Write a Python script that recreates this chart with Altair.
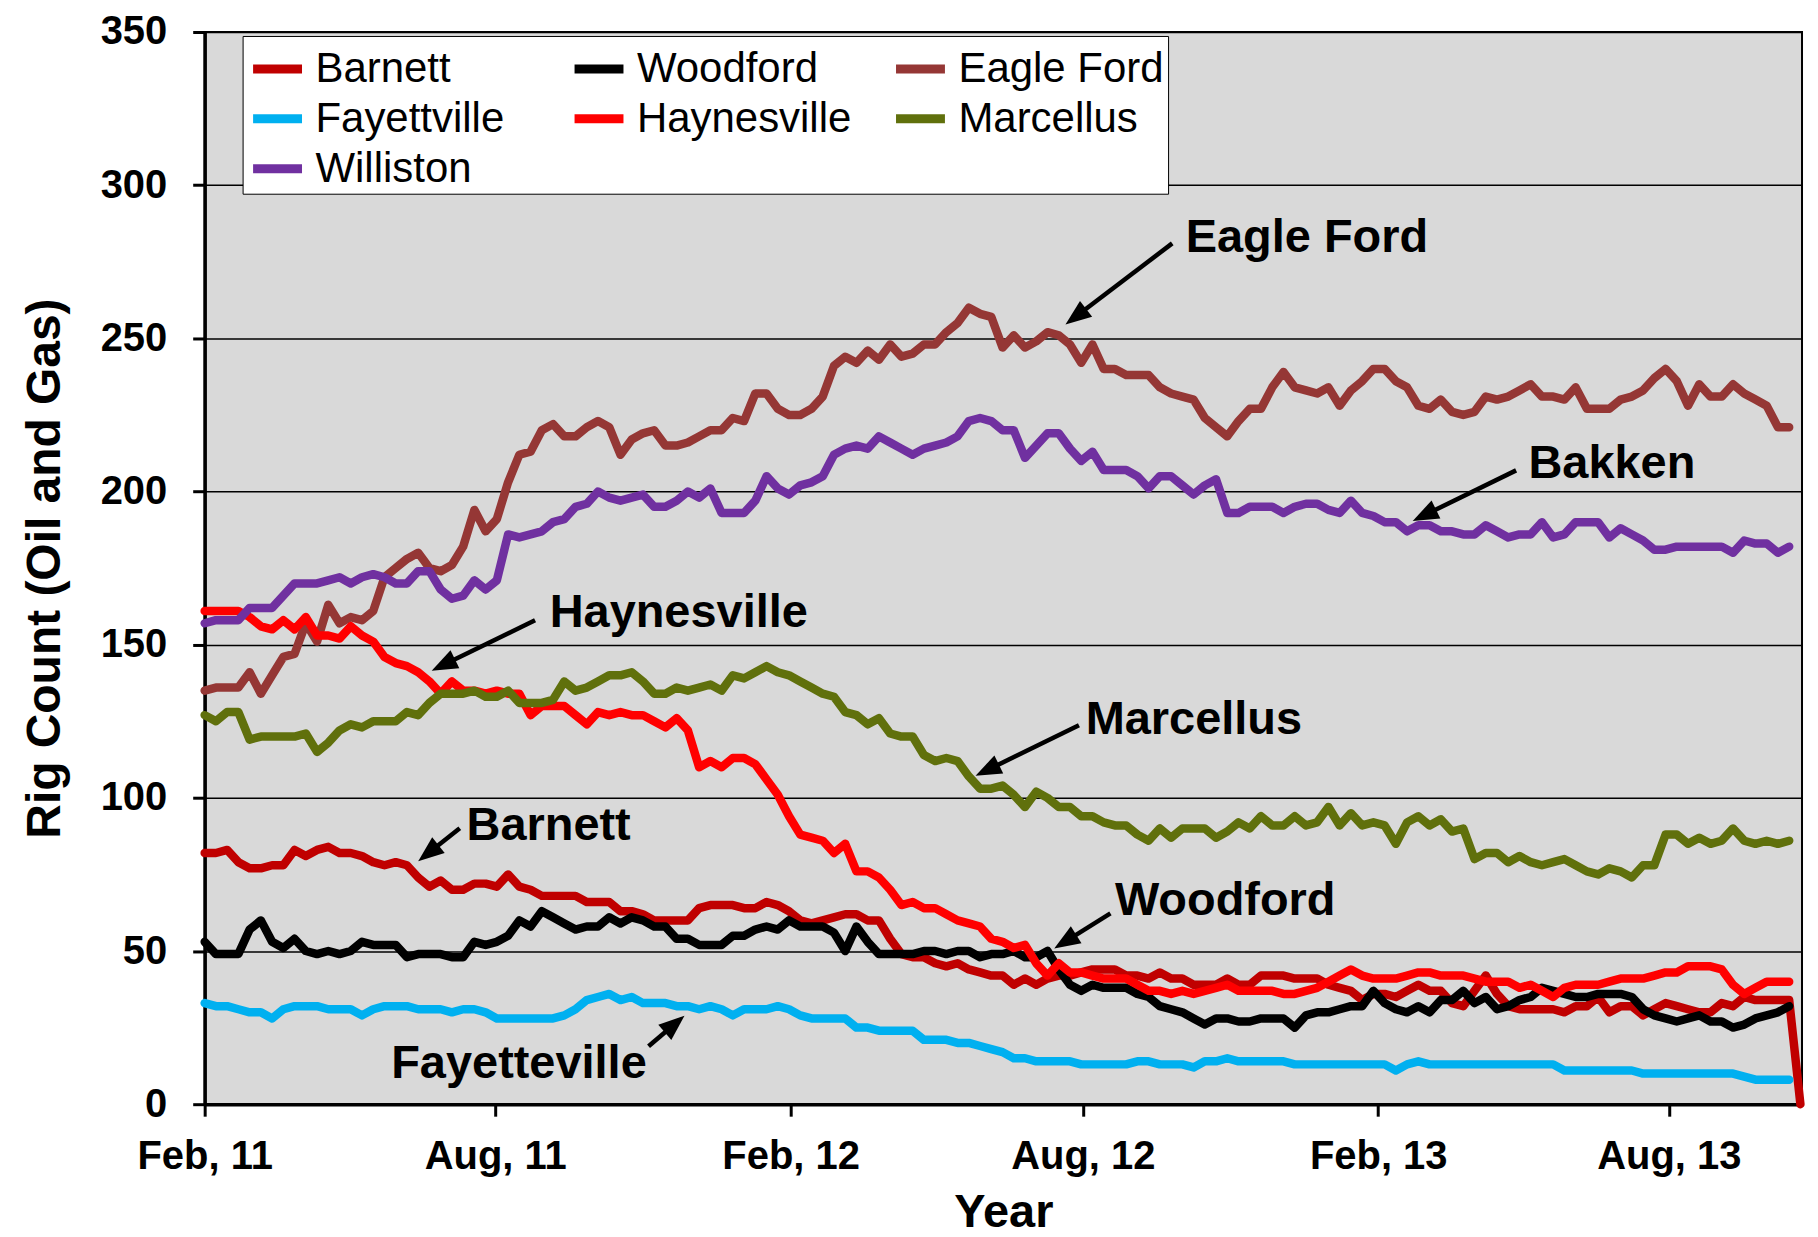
import math
import altair as alt
import pandas as pd

# ---------------- data (weekly rig counts) ----------------
SERIES = ["Barnett", "Woodford", "Eagle Ford", "Fayettville", "Haynesville", "Marcellus", "Williston"]
COLORS = ["#C00000", "#000000", "#953735", "#00B0F0", "#FF0000", "#60700C", "#7030A0"]

BARNETT = [
    82, 82, 83, 79, 77, 77, 78, 78, 83, 81,
    83, 84, 82, 82, 81, 79, 78, 79, 78, 74,
    71, 73, 70, 70, 72, 72, 71, 75, 71, 70,
    68, 68, 68, 68, 66, 66, 66, 63, 63, 62,
    60, 60, 60, 60, 64, 65, 65, 65, 64, 64,
    66, 65, 63, 60, 59, 60, 61, 62, 62, 60,
    60, 54, 49, 48, 48, 46, 45, 46, 44, 43,
    42, 42, 39, 41, 39, 41, 42, 42, 43, 44,
    44, 44, 42, 42, 41, 43, 41, 41, 39, 39,
    39, 41, 39, 39, 42, 42, 42, 41, 41, 41,
    39, 38, 37, 34, 36, 36, 35, 37, 39, 37,
    37, 33, 32, 37, 42, 36, 32, 31, 31, 31,
    31, 30, 32, 32, 35, 30, 32, 32, 29, 31,
    33, 32, 31, 30, 30, 33, 32, 35, 34, 34,
    34, 34, 0,
]
WOODFORD = [
    53, 49, 49, 49, 57, 60, 53, 51, 54, 50,
    49, 50, 49, 50, 53, 52, 52, 52, 48, 49,
    49, 49, 48, 48, 53, 52, 53, 55, 60, 58,
    63, 61, 59, 57, 58, 58, 61, 59, 61, 60,
    58, 58, 54, 54, 52, 52, 52, 55, 55, 57,
    58, 57, 60, 58, 58, 58, 56, 50, 58, 53,
    49, 49, 49, 49, 50, 50, 49, 50, 50, 48,
    49, 49, 50, 48, 48, 50, 44, 39, 37, 39,
    38, 38, 38, 36, 35, 32, 31, 30, 28, 26,
    28, 28, 27, 27, 28, 28, 28, 25, 29, 30,
    30, 31, 32, 32, 37, 33, 31, 30, 32, 30,
    34, 34, 37, 33, 35, 31, 32, 34, 35, 38,
    37, 36, 35, 35, 36, 36, 36, 35, 31, 29,
    28, 27, 28, 29, 27, 27, 25, 26, 28, 29,
    30, 32,
]
EAGLE_FORD = [
    135, 136, 136, 136, 141, 134, 140, 146, 147, 157,
    151, 163, 157, 159, 158, 161, 172, 175, 178, 180,
    175, 174, 176, 182, 194, 187, 191, 203, 212, 213,
    220, 222, 218, 218, 221, 223, 221, 212, 217, 219,
    220, 215, 215, 216, 218, 220, 220, 224, 223, 232,
    232, 227, 225, 225, 227, 231, 241, 244, 242, 246,
    243, 248, 244, 245, 248, 248, 252, 255, 260, 258,
    257, 247, 251, 247, 249, 252, 251, 248, 242, 248,
    240, 240, 238, 238, 238, 234, 232, 231, 230, 224,
    221, 218, 223, 227, 227, 234, 239, 234, 233, 232,
    234, 228, 233, 236, 240, 240, 236, 234, 228, 227,
    230, 226, 225, 226, 231, 230, 231, 233, 235, 231,
    231, 230, 234, 227, 227, 227, 230, 231, 233, 237,
    240, 236, 228, 235, 231, 231, 235, 232, 230, 228,
    221, 221,
]
FAYETTEVILLE = [
    33, 32, 32, 31, 30, 30, 28, 31, 32, 32,
    32, 31, 31, 31, 29, 31, 32, 32, 32, 31,
    31, 31, 30, 31, 31, 30, 28, 28, 28, 28,
    28, 28, 29, 31, 34, 35, 36, 34, 35, 33,
    33, 33, 32, 32, 31, 32, 31, 29, 31, 31,
    31, 32, 31, 29, 28, 28, 28, 28, 25, 25,
    24, 24, 24, 24, 21, 21, 21, 20, 20, 19,
    18, 17, 15, 15, 14, 14, 14, 14, 13, 13,
    13, 13, 13, 14, 14, 13, 13, 13, 12, 14,
    14, 15, 14, 14, 14, 14, 14, 13, 13, 13,
    13, 13, 13, 13, 13, 13, 11, 13, 14, 13,
    13, 13, 13, 13, 13, 13, 13, 13, 13, 13,
    13, 11, 11, 11, 11, 11, 11, 11, 10, 10,
    10, 10, 10, 10, 10, 10, 10, 9, 8, 8,
    8, 8,
]
HAYNESVILLE = [
    161, 161, 161, 161, 159, 156, 155, 158, 155, 159,
    153, 153, 152, 156, 153, 151, 146, 144, 143, 141,
    138, 134, 138, 135, 135, 134, 135, 134, 134, 127,
    130, 130, 130, 127, 124, 128, 127, 128, 127, 127,
    125, 123, 126, 122, 110, 112, 110, 113, 113, 111,
    106, 101, 94, 88, 87, 86, 82, 85, 76, 76,
    74, 70, 65, 66, 64, 64, 62, 60, 59, 58,
    54, 53, 51, 52, 46, 42, 46, 43, 43, 42,
    41, 41, 41, 39, 37, 37, 36, 37, 36, 37,
    38, 39, 37, 37, 37, 37, 36, 36, 37, 38,
    40, 42, 44, 42, 41, 41, 41, 42, 43, 43,
    42, 42, 42, 41, 40, 40, 40, 38, 39, 37,
    35, 38, 39, 39, 39, 40, 41, 41, 41, 42,
    43, 43, 45, 45, 45, 44, 39, 36, 38, 40,
    40, 40,
]
MARCELLUS = [
    127, 125, 128, 128, 119, 120, 120, 120, 120, 121,
    115, 118, 122, 124, 123, 125, 125, 125, 128, 127,
    131, 134, 134, 134, 135, 133, 133, 135, 131, 131,
    131, 132, 138, 135, 136, 138, 140, 140, 141, 138,
    134, 134, 136, 135, 136, 137, 135, 140, 139, 141,
    143, 141, 140, 138, 136, 134, 133, 128, 127, 124,
    126, 121, 120, 120, 114, 112, 113, 112, 107, 103,
    103, 104, 101, 97, 102, 100, 97, 97, 94, 94,
    92, 91, 91, 88, 86, 90, 87, 90, 90, 90,
    87, 89, 92, 90, 94, 91, 91, 94, 91, 92,
    97, 91, 95, 91, 92, 91, 85, 92, 94, 91,
    93, 89, 90, 80, 82, 82, 79, 81, 79, 78,
    79, 80, 78, 76, 75, 77, 76, 74, 78, 78,
    88, 88, 85, 87, 85, 86, 90, 86, 85, 86,
    85, 86,
]
WILLISTON = [
    157, 158, 158, 158, 162, 162, 162, 166, 170, 170,
    170, 171, 172, 170, 172, 173, 172, 170, 170, 174,
    174, 168, 165, 166, 171, 168, 171, 186, 185, 186,
    187, 190, 191, 195, 196, 200, 198, 197, 198, 199,
    195, 195, 197, 200, 198, 201, 193, 193, 193, 197,
    205, 201, 199, 202, 203, 205, 212, 214, 215, 214,
    218, 216, 214, 212, 214, 215, 216, 218, 223, 224,
    223, 220, 220, 211, 215, 219, 219, 214, 210, 213,
    207, 207, 207, 205, 201, 205, 205, 202, 199, 202,
    204, 193, 193, 195, 195, 195, 193, 195, 196, 196,
    194, 193, 197, 193, 192, 190, 190, 187, 189, 189,
    187, 187, 186, 186, 189, 187, 185, 186, 186, 190,
    185, 186, 190, 190, 190, 185, 188, 186, 184, 181,
    181, 182, 182, 182, 182, 182, 180, 184, 183, 183,
    180, 182,
]
SERIES_VALUES = [BARNETT, WOODFORD, EAGLE_FORD, FAYETTEVILLE, HAYNESVILLE, MARCELLUS, WILLISTON]

START = "2011-02-01"          # first weekly observation
AXIS_END = "2013-10-23"       # right edge of the plot
TICK_DATES = ["2011-02-01", "2011-08-01", "2012-02-01", "2012-08-01", "2013-02-01", "2013-08-01"]
Y_TICKS = [0, 50, 100, 150, 200, 250, 300, 350]

# annotations: label text position and arrow (tail -> tip), in weeks since START and rig count
ANN_LABELS = ["Eagle Ford", "Bakken", "Haynesville", "Marcellus", "Woodford", "Barnett", "Fayetteville"]
ANN_TEXT_WEEK = [87.3, 117.8, 30.7, 78.4, 81.0, 23.3, 16.6]
ANN_TEXT_VAL = [282.8, 209.0, 160.3, 125.3, 66.4, 90.7, 13.0]
ARROW_TAIL_WEEK = [86.1, 116.7, 29.4, 77.8, 80.6, 22.7, 39.5]
ARROW_TAIL_VAL = [281.0, 206.9, 158.0, 123.7, 62.3, 90.1, 18.9]
ARROW_TIP_WEEK = [76.6, 107.5, 20.2, 68.6, 75.6, 19.0, 42.7]
ARROW_TIP_VAL = [254.5, 190.4, 141.5, 107.2, 50.8, 79.3, 28.9]

# ---------------- layout / style ----------------
W, H = 1600, 1074
FONT = "Liberation Sans"
DAY_MS = 86400000
WEEK_MS = 7 * DAY_MS


def ms(d):
    return int(pd.Timestamp(d).value // 10**6)


start_ms = ms(START)
end_ms = ms(AXIS_END)

rows = []
for name, vals in zip(SERIES, SERIES_VALUES):
    for i, v in enumerate(vals):
        rows.append({"series": name, "date": start_ms + i * WEEK_MS, "rigs": v})
df = pd.DataFrame(rows)

PX_PER_WEEK = W / ((end_ms - start_ms) / WEEK_MS)
PX_PER_UNIT = H / 350.0

text_df = pd.DataFrame({
    "label": ANN_LABELS,
    "tx": [start_ms + w * WEEK_MS for w in ANN_TEXT_WEEK],
    "tv": ANN_TEXT_VAL,
})

arr_rows = []
for tw, tv, hw, hv in zip(ARROW_TAIL_WEEK, ARROW_TAIL_VAL, ARROW_TIP_WEEK, ARROW_TIP_VAL):
    dx = (hw - tw) * PX_PER_WEEK
    dy = -(hv - tv) * PX_PER_UNIT
    L = math.hypot(dx, dy)
    ux, uy = dx / L, dy / L
    ang = math.degrees(math.atan2(dx, -dy)) % 360
    sw = hw - ux * 14 / PX_PER_WEEK
    sv = hv + uy * 14 / PX_PER_UNIT
    arr_rows.append({
        "x1": start_ms + tw * WEEK_MS, "y1": tv,
        "x2": start_ms + sw * WEEK_MS, "y2": sv,
        "hx": start_ms + hw * WEEK_MS, "hy": hv,
        "angle": ang,
    })
arr_df = pd.DataFrame(arr_rows)

xscale = alt.Scale(type="utc", domain=[start_ms, end_ms])
yscale = alt.Scale(domain=[0, 350], nice=False, zero=True)
xaxis = alt.Axis(
    title="Year", values=[ms(d) for d in TICK_DATES],
    labelExpr="utcFormat(datum.value, '%b, %y')",
    labelFlush=False, labelOverlap=False, grid=False,
    tickSize=12, labelPadding=20, titlePadding=14,
)
yaxis = alt.Axis(
    title="Rig Count (Oil and Gas)", values=Y_TICKS, grid=True,
    tickSize=12, labelPadding=26, titlePadding=31,
)


def X(f):
    return alt.X(f, type="temporal", scale=xscale, axis=xaxis)


def Y(f):
    return alt.Y(f, type="quantitative", scale=yscale, axis=yaxis)


legend = alt.Legend(
    title=None, orient="none", legendX=38, legendY=4, columns=3, direction="horizontal",
    gridAlign="all",
    symbolType="stroke", symbolSize=2401, symbolStrokeWidth=9, symbolOffset=2,
    labelFont=FONT, labelFontSize=42, labelFontWeight="normal", labelColor="black",
    labelLimit=600, labelOffset=9, columnPadding=26, rowPadding=0, padding=4,
    fillColor="white", strokeColor="black",
)
color = alt.Color("series:N", scale=alt.Scale(domain=SERIES, range=COLORS), legend=legend)

layers = []
for s in SERIES:
    layers.append(
        alt.Chart(df)
        .transform_filter(alt.datum.series == s)
        .mark_line(strokeWidth=8.5, strokeCap="round", strokeJoin="round")
        .encode(x=X("date"), y=Y("rigs"), color=color)
    )

texts = alt.Chart(text_df).mark_text(
    align="left", baseline="middle", font=FONT, fontSize=47, fontWeight="bold", color="black"
).encode(x=X("tx"), y=Y("tv"), text="label:N")

shafts = alt.Chart(arr_df).mark_rule(color="black", strokeWidth=4.5).encode(
    x=X("x1"), y=Y("y1"), x2="x2", y2="y2"
)

ARROW_PATH = "M0,0L0.62,1.6L-0.62,1.6Z"
heads = alt.Chart(arr_df).mark_point(
    shape=ARROW_PATH, filled=True, color="black", opacity=1, size=1050, strokeWidth=0
).encode(x=X("hx"), y=Y("hy"), angle=alt.Angle("angle:Q", scale=None))

chart = (
    alt.layer(*layers, texts, shafts, heads)
    .properties(
        width=W, height=H,
        autosize=alt.AutoSizeParams(type="none"),
        padding={"left": 197, "top": 23, "right": 8, "bottom": 132},
        background="white",
    )
    .configure_view(fill="#D9D9D9", stroke="black", strokeWidth=2)
    .configure_axis(
        domainColor="black", domainWidth=3.5,
        tickColor="black", tickWidth=3,
        gridColor="black", gridWidth=1.5, gridOpacity=1,
        labelFont=FONT, labelFontSize=40, labelFontWeight="bold", labelColor="black",
        titleFont=FONT, titleFontSize=47, titleFontWeight="bold", titleColor="black",
    )
    .configure_axisY(titleFontSize=48)
)

chart.save("out.html", embed_options={"renderer": "svg", "actions": False})
